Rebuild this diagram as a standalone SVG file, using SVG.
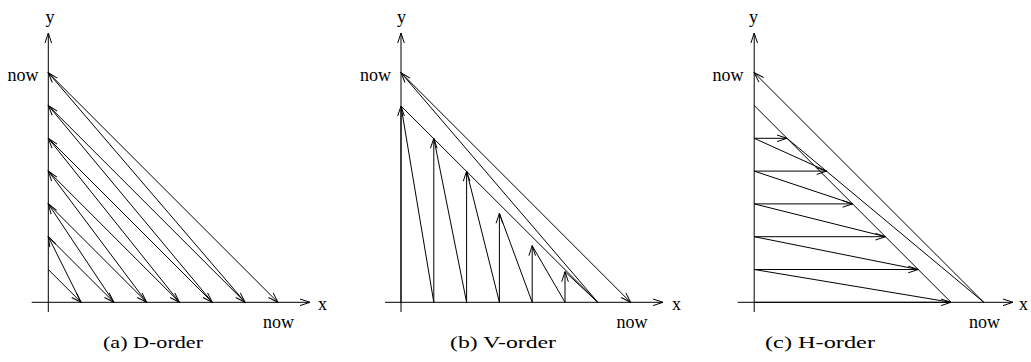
<svg xmlns="http://www.w3.org/2000/svg" width="1031" height="362" viewBox="0 0 1031 362">
<style>
line,polyline{stroke:#000;stroke-width:1;fill:none}
.a{marker-end:url(#ah)}
text{font-family:"Liberation Serif","Times New Roman",serif;fill:#000}
.lab{font-size:18px}
.cap{font-size:16px}
</style>
<defs>
<marker id="ah" viewBox="-11 -5 12 10" markerWidth="12" markerHeight="10" refX="0" refY="0" orient="auto" markerUnits="userSpaceOnUse"><path d="M-10,-3.3 L0,0 L-10,3.3" fill="none" stroke="#000" stroke-width="1"/></marker>
</defs>
<rect width="1031" height="362" fill="#fff"/>

<g id="panel-a">
<g id="axes-a">
<line x1="31.7" y1="302.3" x2="310" y2="302.3" class="a"/>
<line x1="48.3" y1="312" x2="48.3" y2="33" class="a"/>
<text class="lab" x="50" y="23" text-anchor="middle">y</text>
<text class="lab" x="318" y="310">x</text>
<text class="lab" x="7.5" y="81">now</text>
<text class="lab" x="263" y="328">now</text>
<text class="cap" x="103" y="348" textLength="100" lengthAdjust="spacingAndGlyphs">(a) D-order</text>
</g>
<g id="connectors-a">
<line x1="48.3" y1="269.5" x2="81.1" y2="302.3" class="a"/>
<line x1="81.1" y1="302.3" x2="48.3" y2="236.7" class="a"/>
<line x1="48.3" y1="236.7" x2="113.9" y2="302.3" class="a"/>
<line x1="113.9" y1="302.3" x2="48.3" y2="203.9" class="a"/>
<line x1="48.3" y1="203.9" x2="146.7" y2="302.3" class="a"/>
<line x1="146.7" y1="302.3" x2="48.3" y2="171.1" class="a"/>
<line x1="48.3" y1="171.1" x2="179.5" y2="302.3" class="a"/>
<line x1="179.5" y1="302.3" x2="48.3" y2="138.3" class="a"/>
<line x1="48.3" y1="138.3" x2="212.3" y2="302.3" class="a"/>
<line x1="212.3" y1="302.3" x2="48.3" y2="105.5" class="a"/>
<line x1="48.3" y1="105.5" x2="245.1" y2="302.3" class="a"/>
<line x1="245.1" y1="302.3" x2="48.3" y2="72.7" class="a"/>
<line x1="48.3" y1="72.7" x2="277.9" y2="302.3" class="a"/>
</g>
</g>

<g id="panel-b">
<g id="axes-b">
<line x1="385" y1="302.3" x2="663" y2="302.3" class="a"/>
<line x1="401" y1="312" x2="401" y2="33" class="a"/>
<text class="lab" x="401.5" y="23" text-anchor="middle">y</text>
<text class="lab" x="672" y="310">x</text>
<text class="lab" x="360" y="81">now</text>
<text class="lab" x="616.5" y="328">now</text>
<text class="cap" x="450" y="348" textLength="106" lengthAdjust="spacingAndGlyphs">(b) V-order</text>
</g>
<g id="connectors-b">
<line x1="401" y1="302.3" x2="401" y2="106" class="a"/>
<line x1="433.8" y1="302.3" x2="433.8" y2="138.3" class="a"/>
<line x1="466.6" y1="302.3" x2="466.6" y2="171.1" class="a"/>
<line x1="499.4" y1="302.3" x2="499.4" y2="213.3" class="a"/>
<line x1="532.2" y1="302.3" x2="532.2" y2="245.7" class="a"/>
<line x1="565" y1="302.3" x2="565" y2="271.7" class="a"/>
<line x1="433.8" y1="302.3" x2="401" y2="106"/>
<line x1="466.6" y1="302.3" x2="433.8" y2="138.3"/>
<line x1="499.4" y1="302.3" x2="466.6" y2="171.1"/>
<line x1="532.2" y1="302.3" x2="499.4" y2="213.3"/>
<line x1="565" y1="302.3" x2="532.2" y2="245.7"/>
<line x1="597.8" y1="302.3" x2="565" y2="271.7"/>
<line x1="401" y1="106" x2="597.8" y2="302.3"/>
<line x1="597.8" y1="302.3" x2="401" y2="72.7" class="a"/>
<line x1="401" y1="72.7" x2="630.6" y2="302.3" class="a"/>
</g>
</g>

<g id="panel-c">
<g id="axes-c">
<line x1="737.7" y1="302.3" x2="1013" y2="302.3" class="a"/>
<line x1="754.2" y1="312" x2="754.2" y2="33" class="a"/>
<text class="lab" x="753.5" y="23" text-anchor="middle">y</text>
<text class="lab" x="1019" y="310">x</text>
<text class="lab" x="712.5" y="81">now</text>
<text class="lab" x="969" y="328">now</text>
<text class="cap" x="765" y="348" textLength="110" lengthAdjust="spacingAndGlyphs">(c) H-order</text>
</g>
<g id="connectors-c">
<line x1="754.2" y1="138.3" x2="787" y2="138.3" class="a"/>
<line x1="754.2" y1="171.1" x2="826.7" y2="171.1" class="a"/>
<line x1="754.2" y1="203.9" x2="852.6" y2="203.9" class="a"/>
<line x1="754.2" y1="236.7" x2="885.4" y2="236.7" class="a"/>
<line x1="754.2" y1="269.5" x2="918.2" y2="269.5" class="a"/>
<line x1="754.2" y1="302.3" x2="951" y2="302.3" class="a"/>
<line x1="754.2" y1="138.3" x2="826.7" y2="171.1"/>
<line x1="754.2" y1="171.1" x2="852.6" y2="203.9"/>
<line x1="754.2" y1="203.9" x2="885.4" y2="236.7"/>
<line x1="754.2" y1="236.7" x2="918.2" y2="269.5"/>
<line x1="754.2" y1="269.5" x2="951" y2="302.3"/>
<line x1="754.2" y1="105.5" x2="951" y2="302.3"/>
<line x1="787" y1="138.3" x2="983.8" y2="302.3"/>
<line x1="983.8" y1="302.3" x2="754.2" y2="72.7" class="a"/>
</g>
</g>
</svg>
